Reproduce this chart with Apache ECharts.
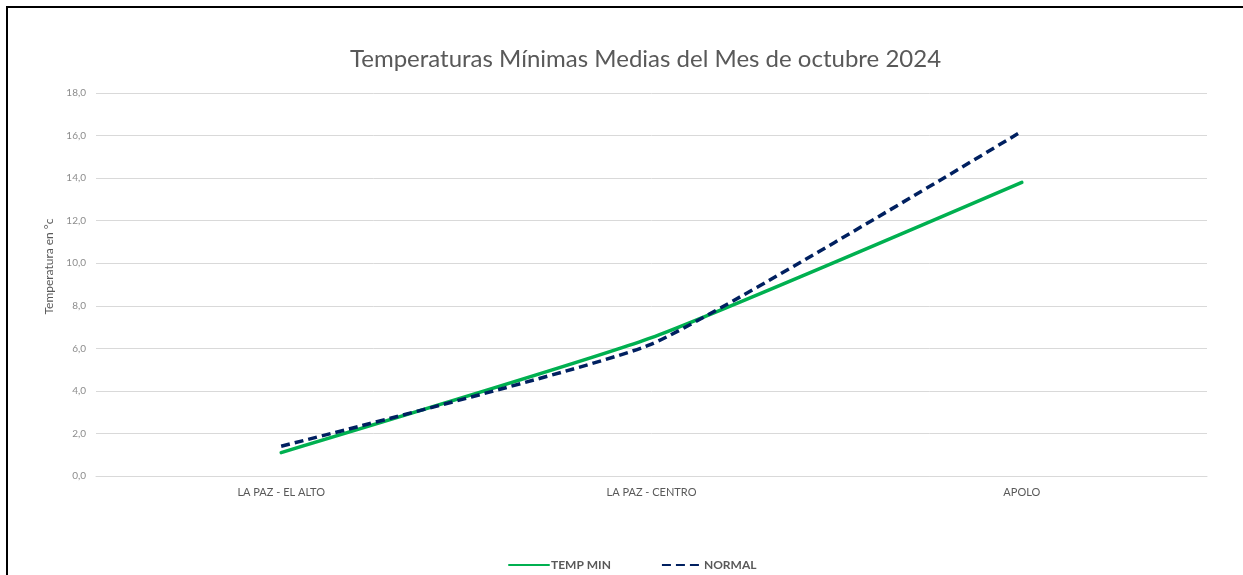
<!DOCTYPE html>
<html>
<head>
<meta charset="utf-8">
<script src="https://cdn.jsdelivr.net/npm/echarts@6/dist/echarts.min.js"></script>
<style>
html,body{margin:0;padding:0;background:#fff;}
#c{width:1243px;height:575px;}
</style>
</head>
<body>
<div id="c"></div>
<script>
const categories = ['LA PAZ - EL ALTO', 'LA PAZ - CENTRO', 'APOLO'];
const tempMin = [1.1, 6.5, 13.8];
const normal = [1.4, 6.2, 16.2];
const seriesNames = ['TEMP MIN', 'NORMAL'];

const chart = echarts.init(document.getElementById('c'), null, {renderer: 'canvas'});
const font = 'Lato, "Open Sans", "Liberation Sans", sans-serif';
chart.setOption({
  animation: false,
  backgroundColor: '#fff',
  title: {
    text: 'Temperaturas Mínimas Medias del Mes de octubre 2024',
    left: 345,
    top: 42,
    textStyle: {fontFamily: font, fontSize: 24, fontWeight: 'normal', color: '#595959'}
  },
  graphic: [{
    type: 'rect',
    shape: {x: 7, y: 7, width: 1400, height: 700},
    style: {fill: 'none', stroke: '#000', lineWidth: 2},
    silent: true
  }],
  legend: {
    left: 503,
    top: 554,
    itemWidth: 40,
    itemHeight: 14,
    itemGap: 50,
    itemStyle: {opacity: 0},
    textStyle: {fontFamily: font, fontSize: 12, fontWeight: 'bold', color: '#595959', padding: [0,0,0,-3]},
    data: seriesNames
  },
  grid: {left: 96, right: 36, top: 93, bottom: 99, containLabel: false},
  xAxis: {
    type: 'category',
    data: categories,
    boundaryGap: true,
    axisLine: {show: true, lineStyle: {color: '#d9d9d9'}},
    axisTick: {show: false},
    axisLabel: {fontFamily: font, fontSize: 11, color: '#595959', margin: 11}
  },
  yAxis: {
    type: 'value',
    min: 0,
    max: 18,
    interval: 2,
    name: 'Temperatura en °c',
    nameLocation: 'middle',
    nameGap: 35,
    nameTextStyle: {fontFamily: font, fontSize: 12, color: '#595959', padding: [0, 0, 0, 36]},
    axisLine: {show: false},
    axisTick: {show: false},
    axisLabel: {
      fontFamily: font, fontSize: 10, color: '#8c8c8c', margin: 10,
      formatter: v => v.toFixed(1).replace('.', ',')
    },
    splitLine: {lineStyle: {color: '#d9d9d9', width: 1}}
  },
  series: [
    {
      name: seriesNames[0],
      type: 'line',
      data: tempMin,
      smooth: 0.15,
      symbol: 'none',
      itemStyle: {color: '#00B050'},
      lineStyle: {color: '#00B050', width: 3.5, cap: 'round'}
    },
    {
      name: seriesNames[1],
      type: 'line',
      data: normal,
      smooth: 0.15,
      symbol: 'none',
      itemStyle: {color: '#002060'},
      lineStyle: {color: '#002060', width: 3.5, type: [9, 5], cap: 'butt'}
    }
  ]
});
</script>
</body>
</html>
